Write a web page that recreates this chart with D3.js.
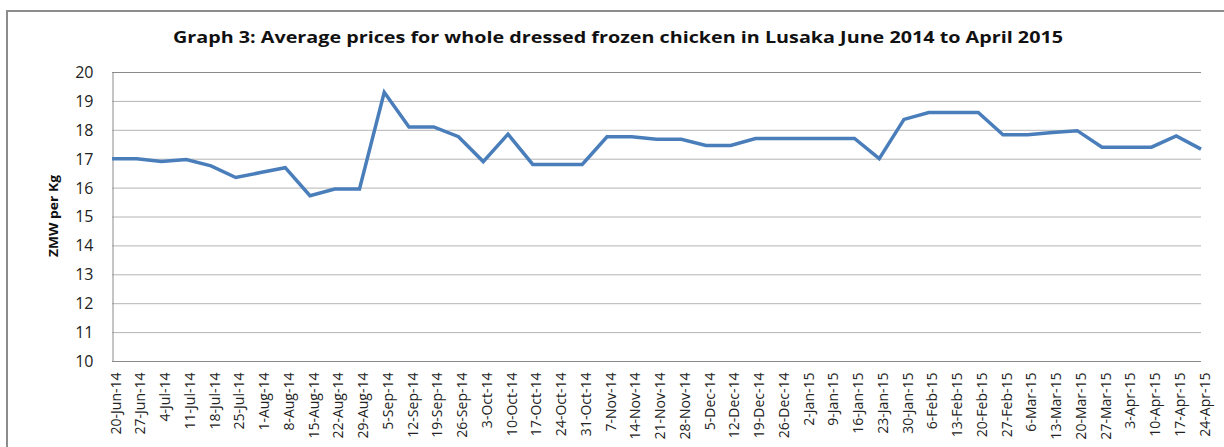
<!DOCTYPE html>
<html>
<head>
<meta charset="utf-8">
<script src="https://cdn.jsdelivr.net/npm/d3@7"></script>
<style>
  html, body { margin: 0; padding: 0; background: #fff; }
  svg { display: block; }
</style>
</head>
<body>
<svg id="chart" width="1224" height="447"></svg>
<script>
const titleText = "Graph 3: Average prices for whole dressed frozen chicken in Lusaka June 2014 to April 2015";
const yAxisTitle = "ZMW per Kg";
const dates = [
  "20-Jun-14","27-Jun-14","4-Jul-14","11-Jul-14","18-Jul-14","25-Jul-14",
  "1-Aug-14","8-Aug-14","15-Aug-14","22-Aug-14","29-Aug-14",
  "5-Sep-14","12-Sep-14","19-Sep-14","26-Sep-14",
  "3-Oct-14","10-Oct-14","17-Oct-14","24-Oct-14","31-Oct-14",
  "7-Nov-14","14-Nov-14","21-Nov-14","28-Nov-14",
  "5-Dec-14","12-Dec-14","19-Dec-14","26-Dec-14",
  "2-Jan-15","9-Jan-15","16-Jan-15","23-Jan-15","30-Jan-15",
  "6-Feb-15","13-Feb-15","20-Feb-15","27-Feb-15",
  "6-Mar-15","13-Mar-15","20-Mar-15","27-Mar-15",
  "3-Apr-15","10-Apr-15","17-Apr-15","24-Apr-15"
];
const prices = [
  17.0, 17.0, 16.9, 16.97, 16.75, 16.35,
  16.52, 16.69, 15.72, 15.95, 15.95,
  19.3, 18.1, 18.1, 17.76,
  16.9, 17.85, 16.8, 16.8, 16.8,
  17.76, 17.76, 17.67, 17.67,
  17.46, 17.46, 17.7, 17.7,
  17.7, 17.7, 17.7, 17.0, 18.36,
  18.6, 18.6, 18.6, 17.83,
  17.83, 17.91, 17.97, 17.4,
  17.4, 17.4, 17.79, 17.33
];
const yTicks = [10, 11, 12, 13, 14, 15, 16, 17, 18, 19, 20];

const svg = d3.select("#chart");
const pLeft = 112, pRight = 1201, pTop = 72, pBottom = 361;

// outer frame (left + top edges visible)
svg.append("path")
  .attr("d", "M7,447 L7,11 L1224,11")
  .attr("fill", "none").attr("stroke", "#8c8c8c").attr("stroke-width", 2);

const x = d3.scalePoint().domain(dates).range([pLeft, pRight]).padding(0);
const y = d3.scaleLinear().domain([10, 20]).range([pBottom, pTop]);

// gridlines
svg.append("g").selectAll("line").data(yTicks.filter(t => t !== 10)).join("line")
  .attr("x1", pLeft).attr("x2", pRight)
  .attr("y1", d => y(d) + 0.5).attr("y2", d => y(d) + 0.5)
  .attr("stroke", d => d === 20 ? "#8a8a8a" : "#b4b4b4")
  .attr("stroke-width", 1);

// y axis
const yAxis = svg.append("g").attr("transform", `translate(${pLeft + 0.5},0)`)
  .call(d3.axisLeft(y).tickValues(yTicks).tickSize(0).tickPadding(19).tickFormat(d3.format("d")));
yAxis.select(".domain").attr("stroke", "#8a8a8a");
yAxis.selectAll("text")
  .attr("font-family", "'Open Sans', 'Noto Sans', sans-serif")
  .attr("font-size", 16).attr("fill", "#222")
  .attr("dy", "0.34em");

// x axis
const xAxis = svg.append("g").attr("transform", `translate(0,${pBottom + 0.5})`)
  .call(d3.axisBottom(x).tickSize(0).tickPadding(0));
xAxis.select(".domain").attr("stroke", "#8a8a8a").attr("d", `M${pLeft},0H${pRight}`);
xAxis.selectAll("text")
  .attr("font-family", "'Open Sans', 'Noto Sans', sans-serif")
  .attr("font-size", 14).attr("fill", "#222")
  .attr("text-anchor", "end")
  .attr("transform", "rotate(-90)")
  .attr("x", -11).attr("y", 3).attr("dy", "0.36em");

// line
const line = d3.line().x((d, i) => x(dates[i])).y(d => y(d));
svg.append("path").datum(prices)
  .attr("d", line)
  .attr("fill", "none")
  .attr("stroke", "#4a7ebb")
  .attr("stroke-width", 3.5)
  .attr("stroke-linejoin", "miter");

// title
svg.append("text")
  .attr("x", 618).attr("y", 43)
  .attr("text-anchor", "middle")
  .attr("font-family", "'Open Sans', 'Noto Sans', sans-serif")
  .attr("font-weight", "bold").attr("font-size", 15.5)
  .attr("fill", "#111")
  .attr("textLength", 890).attr("lengthAdjust", "spacingAndGlyphs")
  .text(titleText);

// y axis title
svg.append("text")
  .attr("transform", `translate(58,216) rotate(-90)`)
  .attr("text-anchor", "middle")
  .attr("font-family", "'Open Sans', 'Noto Sans', sans-serif")
  .attr("font-weight", "bold").attr("font-size", 13)
  .attr("fill", "#111")
  .attr("textLength", 82).attr("lengthAdjust", "spacingAndGlyphs")
  .text(yAxisTitle);
</script>
</body>
</html>
